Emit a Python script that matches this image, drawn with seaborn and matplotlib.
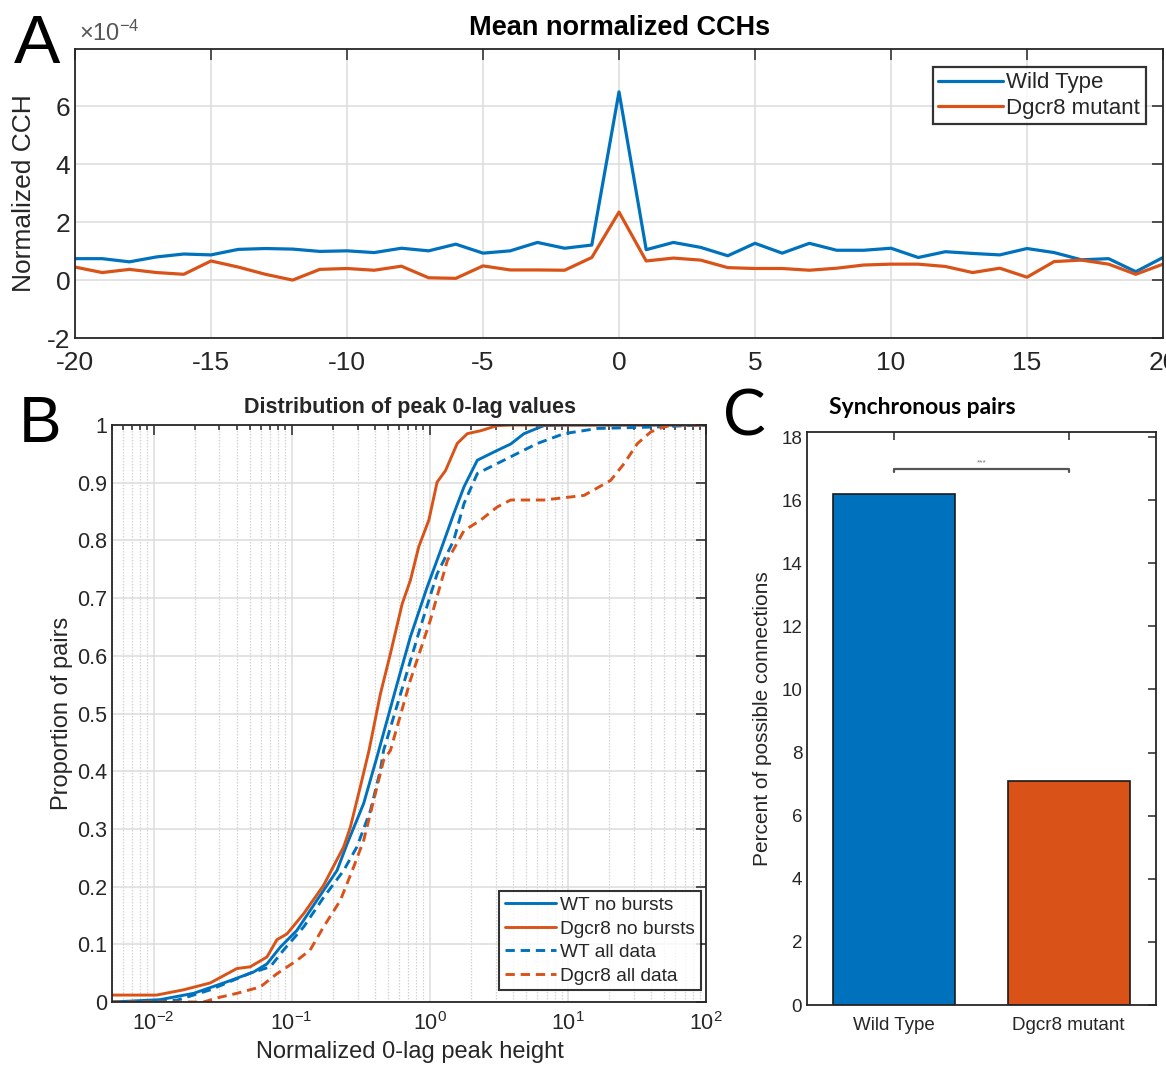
import matplotlib
matplotlib.use("Agg")
import matplotlib.pyplot as plt
import seaborn as sns
import pandas as pd
from matplotlib.ticker import LogLocator, NullFormatter

# ---------------- Panel A data (normalized CCH, units of 1e-4) ----------------
lags = list(range(-20, 21))
wt_cch = [0.74, 0.74, 0.63, 0.80, 0.90, 0.87, 1.06, 1.09, 1.07, 0.99, 1.01,
          0.95, 1.10, 1.01, 1.24, 0.93, 1.01, 1.30, 1.10, 1.21,
          6.50,
          1.05, 1.30, 1.13, 0.84, 1.27, 0.93, 1.27, 1.03, 1.03,
          1.10, 0.78, 0.98, 0.92, 0.87, 1.09, 0.95, 0.70, 0.74, 0.29, 0.78]
dg_cch = [0.45, 0.26, 0.37, 0.26, 0.20, 0.66, 0.45, 0.20, 0.00, 0.37, 0.40,
          0.34, 0.48, 0.08, 0.06, 0.49, 0.35, 0.35, 0.34, 0.78,
          2.35,
          0.66, 0.76, 0.69, 0.43, 0.40, 0.40, 0.34, 0.41, 0.52,
          0.55, 0.55, 0.47, 0.26, 0.41, 0.10, 0.64, 0.69, 0.55, 0.20, 0.55]
series_a = ["Wild Type", "Dgcr8 mutant"]

# ---------------- Panel B data (cumulative distributions) ----------------
wt_nb_x = [0.005, 0.0111, 0.0195, 0.034, 0.053, 0.0662, 0.0826, 0.109, 0.152,
           0.213, 0.252, 0.332, 0.415, 0.581, 0.724, 0.957, 1.20, 1.49, 1.77,
           2.21, 3.08, 3.85, 4.81, 6.71, 9.38, 100.0]
wt_nb_y = [0.0, 0.004, 0.015, 0.035, 0.052, 0.066, 0.095, 0.124, 0.176,
           0.228, 0.274, 0.344, 0.425, 0.552, 0.633, 0.719, 0.783, 0.846, 0.893,
           0.939, 0.956, 0.967, 0.985, 0.999, 1.0, 1.0]

dg_nb_x = [0.005, 0.0105, 0.0164, 0.0257, 0.0401, 0.0501, 0.0662, 0.0782,
           0.0925, 0.122, 0.170, 0.238, 0.266, 0.314, 0.363, 0.439, 0.519,
           0.631, 0.724, 0.832, 0.984, 1.13, 1.30, 1.58, 1.87, 2.33, 3.08,
           3.98, 100.0]
dg_nb_y = [0.012, 0.012, 0.021, 0.033, 0.058, 0.061, 0.078, 0.108,
           0.118, 0.153, 0.202, 0.269, 0.303, 0.373, 0.436, 0.534, 0.604,
           0.690, 0.731, 0.789, 0.835, 0.901, 0.921, 0.968, 0.985, 0.990, 0.999,
           1.0, 1.0]

wt_all_x = [0.005, 0.0147, 0.0257, 0.0501, 0.070, 0.0873, 0.122, 0.170,
            0.238, 0.297, 0.372, 0.439, 0.463, 0.647, 0.857, 1.13, 1.49, 1.77,
            2.21, 3.44, 6.01, 9.38, 16.4, 49.8, 86.9, 100.0]
wt_all_y = [0.0, 0.003, 0.021, 0.050, 0.061, 0.090, 0.130, 0.181,
            0.228, 0.269, 0.332, 0.402, 0.436, 0.552, 0.650, 0.742, 0.800, 0.864,
            0.916, 0.939, 0.968, 0.985, 0.994, 0.997, 1.0, 1.0]

dg_all_x = [0.005, 0.023, 0.0287, 0.0401, 0.0592, 0.0782, 0.109, 0.136,
            0.170, 0.225, 0.281, 0.332, 0.393, 0.463, 0.519, 0.724, 1.01, 1.34,
            1.77, 2.33, 3.08, 3.85, 6.71, 13.1, 20.4, 25.5, 31.9, 39.8, 49.8,
            62.2, 100.0]
dg_all_y = [0.0, 0.0, 0.007, 0.015, 0.026, 0.049, 0.072, 0.090,
            0.130, 0.176, 0.234, 0.280, 0.350, 0.419, 0.436, 0.558, 0.662, 0.765,
            0.817, 0.835, 0.858, 0.870, 0.870, 0.878, 0.904, 0.933, 0.968, 0.988,
            0.997, 1.0, 1.0]
series_b = ["WT no bursts", "Dgcr8 no bursts", "WT all data", "Dgcr8 all data"]

# ---------------- Panel C data ----------------
groups = ["Wild Type", "Dgcr8 mutant"]
pct_sync = [16.2, 7.1]
sig_label = "***"

# ---------------- Style ----------------
BLUE = "#0072BD"
ORANGE = "#D95319"
TXT = "#262626"
GRID = "#dcdcdc"

sns.set_style("white")
plt.rcParams["font.family"] = ["Liberation Sans", "DejaVu Sans"]
plt.rcParams["mathtext.fontset"] = "custom"
plt.rcParams["mathtext.rm"] = "Liberation Sans"
plt.rcParams["mathtext.it"] = "Liberation Sans:italic"
plt.rcParams["axes.unicode_minus"] = False
plt.rcParams["axes.edgecolor"] = TXT
plt.rcParams["axes.linewidth"] = 1.2

W, H = 1166, 1074
fig = plt.figure(figsize=(W / 100, H / 100), dpi=100)
fig.patch.set_facecolor("white")


def box(l, t, r, b):
    return [l / W, 1 - b / H, (r - l) / W, (b - t) / H]


def style_ticks(ax, size, length=7):
    ax.tick_params(which="both", direction="in", top=True, right=True,
                   colors=TXT, labelcolor=TXT, labelsize=size, width=1.1)
    ax.tick_params(which="major", length=length)
    ax.tick_params(which="minor", length=length * 0.55)
    for s in ax.spines.values():
        s.set_visible(True)
        s.set_color(TXT)
        s.set_linewidth(1.3)


# ======== Panel A ========
axA = fig.add_axes(box(75, 49, 1163, 338))
dfA = pd.DataFrame({"lag": lags * 2,
                    "cch": wt_cch + dg_cch,
                    "group": [series_a[0]] * len(lags) + [series_a[1]] * len(lags)})
sns.lineplot(data=dfA, x="lag", y="cch", hue="group", palette=[BLUE, ORANGE],
             ax=axA, linewidth=2.3, estimator=None, sort=False)
axA.set_xlim(-20, 20)
axA.set_ylim(-2, 7.98)
axA.set_xticks(range(-20, 21, 5))
axA.set_yticks([-2, 0, 2, 4, 6])
axA.grid(True, color=GRID, linewidth=1.1)
axA.set_axisbelow(True)
style_ticks(axA, 19, length=8)
axA.set_xlabel("")
axA.set_ylabel("Normalized CCH", fontsize=19, color=TXT)
axA.yaxis.set_label_coords(-0.036, 0.5)
axA.xaxis.set_tick_params(pad=9)
legA = axA.legend(loc="upper right", bbox_to_anchor=(0.984, 0.938), fontsize=16,
                  frameon=True, fancybox=False, edgecolor="black",
                  handlelength=2.9, handletextpad=0.15, borderpad=0.25,
                  labelspacing=0.2, borderaxespad=0.0)
legA.get_frame().set_linewidth(1.6)
for t in legA.get_texts():
    t.set_color(TXT)
fig.text(620 / W, 1 - 28 / H, "Mean normalized CCHs", ha="center", va="center",
         fontsize=19.5, fontweight="bold", color="black")
fig.text(79 / W, 1 - 33 / H, r"$\times10^{-4}$", ha="left", va="center",
         fontsize=17, color="#555555")
fig.text(37 / W, 1 - 45 / H, "A", ha="center", va="center", fontsize=50,
         color="black")

# ======== Panel B ========
axB = fig.add_axes(box(112, 425, 706, 1002))
dash = (0, (3.2, 2.0))
sns.lineplot(x=wt_nb_x, y=wt_nb_y, ax=axB, color=BLUE, linewidth=2.1,
             estimator=None, sort=False, label=series_b[0])
sns.lineplot(x=dg_nb_x, y=dg_nb_y, ax=axB, color=ORANGE, linewidth=2.1,
             estimator=None, sort=False, label=series_b[1])
sns.lineplot(x=wt_all_x, y=wt_all_y, ax=axB, color=BLUE, linewidth=2.1,
             estimator=None, sort=False, label=series_b[2], linestyle=dash)
sns.lineplot(x=dg_all_x, y=dg_all_y, ax=axB, color=ORANGE, linewidth=2.1,
             estimator=None, sort=False, label=series_b[3], linestyle=dash)
axB.set_xscale("log")
axB.set_xlim(0.005, 100)
axB.set_ylim(0, 1)
axB.set_yticks([i / 10 for i in range(11)])
axB.set_yticklabels(["0", "0.1", "0.2", "0.3", "0.4", "0.5", "0.6", "0.7",
                     "0.8", "0.9", "1"])
axB.xaxis.set_major_locator(LogLocator(base=10, numticks=10))
axB.xaxis.set_minor_locator(LogLocator(base=10, subs=range(2, 10), numticks=20))
axB.xaxis.set_minor_formatter(NullFormatter())
axB.grid(True, which="major", color=GRID, linewidth=1.1)
axB.grid(True, which="minor", axis="x", color="#d2d2d2", linewidth=0.9,
         linestyle=(0, (1.2, 1.2)))
axB.set_axisbelow(True)
style_ticks(axB, 15.5, length=7)
axB.tick_params(axis="x", labelsize=15.5, pad=7)
axB.set_xlabel("Normalized 0-lag peak height", fontsize=17, color=TXT)
axB.xaxis.set_label_coords(0.502, -0.068)
axB.set_ylabel("Proportion of pairs", fontsize=17, color=TXT)
axB.yaxis.set_label_coords(-0.066, 0.5)
legB = axB.legend(loc="lower right", bbox_to_anchor=(0.9915, 0.02), fontsize=13.8,
                  frameon=True, fancybox=False, edgecolor="black",
                  handlelength=2.7, handletextpad=0.2, borderpad=0.3,
                  labelspacing=0.32, borderaxespad=0.0)
legB.get_frame().set_linewidth(1.5)
for t in legB.get_texts():
    t.set_color(TXT)
fig.text(410 / W, 1 - 408 / H, "Distribution of peak 0-lag values", ha="center",
         va="center", fontsize=15.5, fontweight="bold", color=TXT)
fig.text(40 / W, 1 - 425 / H, "B", ha="center", va="center", fontsize=46,
         color="black")

# ======== Panel C ========
axC = fig.add_axes(box(807, 432, 1156, 1005))
sns.barplot(x=groups, y=pct_sync, hue=groups, palette=[BLUE, ORANGE],
            ax=axC, width=0.7, edgecolor="#1a1a1a", linewidth=1.2,
            legend=False, saturation=1)
axC.set_xlim(-0.5, 1.5)
axC.set_ylim(0, 18.16)
axC.set_yticks(range(0, 19, 2))
style_ticks(axC, 13.5, length=6)
axC.tick_params(axis="x", labelsize=13.5, pad=9)
axC.set_xlabel("")
axC.set_ylabel("Percent of possible connections", fontsize=15, color=TXT)
axC.yaxis.set_label_coords(-0.10, 0.5)
axC.plot([0, 0, 1, 1], [16.88, 17.0, 17.0, 16.88], color="#555555", linewidth=1.6)
axC.text(0.5, 17.06, sig_label, ha="center", va="bottom", fontsize=6,
         color="#777777")
fig.text(922 / W, 1 - 408 / H, "Synchronous pairs", ha="center", va="center",
         fontsize=16.5, fontweight="bold", color="black",
         family=["Lato", "DejaVu Sans"])
fig.text(744 / W, 1 - 417 / H, "C", ha="center", va="center", fontsize=46,
         color="black", family=["Lato", "DejaVu Sans"])

fig.savefig("out.png", dpi=100, facecolor="white")
